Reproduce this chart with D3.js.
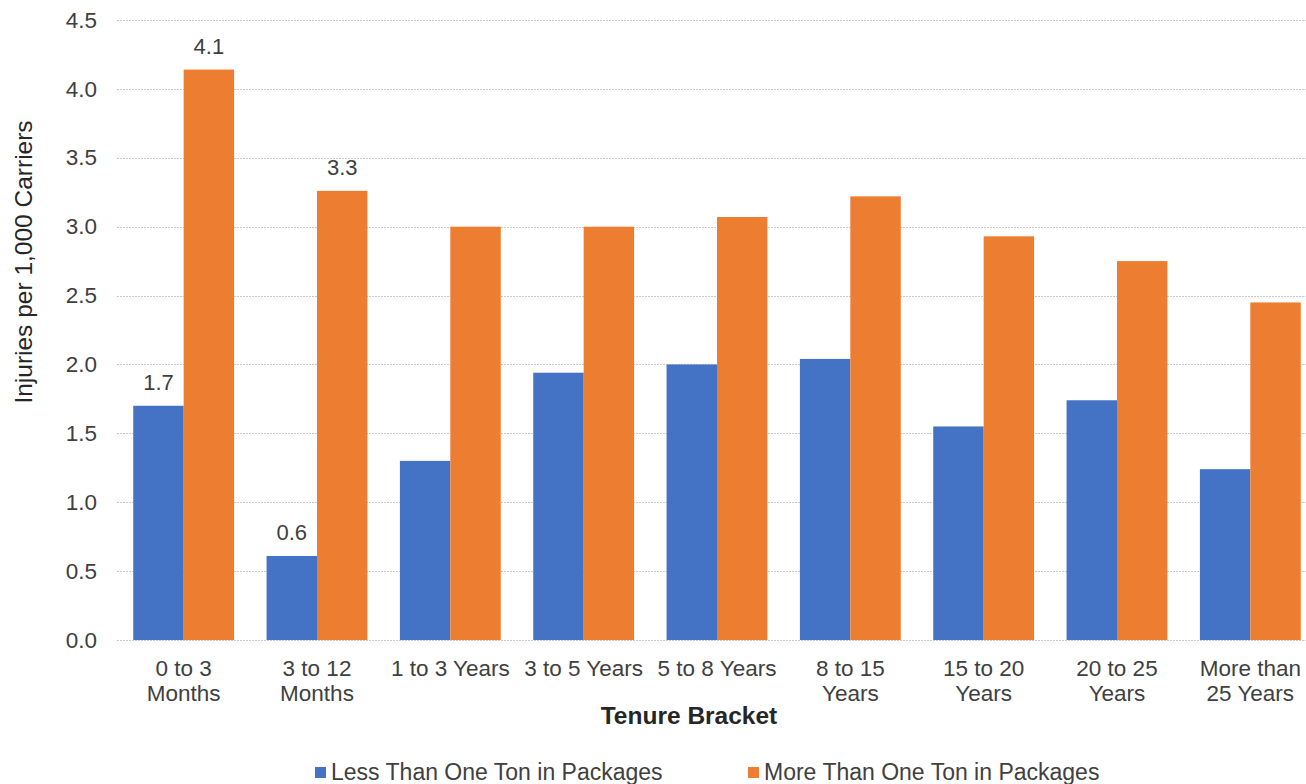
<!DOCTYPE html>
<html>
<head>
<meta charset="utf-8">
<script src="https://cdn.jsdelivr.net/npm/d3@7"></script>
<style>
  html, body { margin: 0; padding: 0; background: #fff; }
  svg { display: block; font-family: "Liberation Sans", Arial, sans-serif; }
</style>
</head>
<body>
<svg id="chart" width="1306" height="784"></svg>
<script>
// Tenure brackets (each label split into its display lines)
const categories = [
  ["0 to 3", "Months"],
  ["3 to 12", "Months"],
  ["1 to 3 Years"],
  ["3 to 5 Years"],
  ["5 to 8 Years"],
  ["8 to 15", "Years"],
  ["15 to 20", "Years"],
  ["20 to 25", "Years"],
  ["More than", "25 Years"]
];
const seriesNames = ["Less Than One Ton in Packages", "More Than One Ton in Packages"];
const lessThanOneTon = [1.70, 0.61, 1.30, 1.94, 2.00, 2.04, 1.55, 1.74, 1.24];
const moreThanOneTon = [4.14, 3.26, 3.00, 3.00, 3.07, 3.22, 2.93, 2.75, 2.45];
// Data labels shown only on selected bars: [series index, category index, text]
const dataLabels = [[0, 0, "1.7"], [1, 0, "4.1"], [0, 1, "0.6"], [1, 1, "3.3"]];
const yTicks = [0, 0.5, 1, 1.5, 2, 2.5, 3, 3.5, 4, 4.5];
const colors = ["#4472C4", "#ED7D31"];

const svg = d3.select("#chart");
const margin = { left: 117, right: 1317, top: 20, bottom: 640 };

const keys = categories.map((c, i) => i);
const x = d3.scaleBand().domain(keys).range([margin.left, margin.right]).paddingInner(0).paddingOuter(0);
const inner = d3.scaleBand().domain([0, 1]).range([0, x.bandwidth()]).paddingOuter(0.322).paddingInner(0);
const y = d3.scaleLinear().domain([0, 4.5]).range([margin.bottom, margin.top]);

// Horizontal gridlines
svg.append("g")
  .selectAll("line")
  .data(yTicks)
  .join("line")
  .attr("x1", margin.left)
  .attr("x2", 1306)
  .attr("y1", d => Math.round(y(d)) + 0.5)
  .attr("y2", d => Math.round(y(d)) + 0.5)
  .attr("stroke", "#c8c8c8")
  .attr("stroke-width", 1)
  .attr("stroke-dasharray", "2,1");

// Y axis tick labels
const yAxis = d3.axisLeft(y).tickValues(yTicks).tickFormat(d3.format(".1f")).tickSize(0).tickPadding(20);
const gy = svg.append("g").attr("transform", `translate(${margin.left},0)`).call(yAxis);
gy.select(".domain").remove();
gy.selectAll("text")
  .attr("font-size", 22.5)
  .attr("fill", "#404040")
  .attr("font-family", "Liberation Sans, Arial, sans-serif");

// Bars
const series = [lessThanOneTon, moreThanOneTon];
series.forEach((vals, s) => {
  svg.append("g")
    .selectAll("rect")
    .data(vals)
    .join("rect")
    .attr("x", (d, i) => x(i) + inner(s))
    .attr("width", inner.bandwidth())
    .attr("y", d => y(d))
    .attr("height", d => y(0) - y(d))
    .attr("fill", colors[s]);
});

// Data labels
svg.append("g")
  .selectAll("text")
  .data(dataLabels)
  .join("text")
  .attr("x", d => x(d[1]) + inner(d[0]) + inner.bandwidth() / 2)
  .attr("y", d => y(series[d[0]][d[1]]) - 16)
  .attr("text-anchor", "middle")
  .attr("font-size", 22)
  .attr("fill", "#404040")
  .text(d => d[2]);

// Category labels
const cat = svg.append("g");
categories.forEach((lines, i) => {
  const cx = x(i) + x.bandwidth() / 2;
  const t = cat.append("text")
    .attr("x", cx)
    .attr("y", 676)
    .attr("text-anchor", "middle")
    .attr("font-size", 22.5)
    .attr("fill", "#404040");
  lines.forEach((ln, j) => {
    t.append("tspan").attr("x", cx).attr("dy", j === 0 ? 0 : 25).text(ln);
  });
});

// Axis titles
svg.append("text")
  .attr("x", 689)
  .attr("y", 724)
  .attr("text-anchor", "middle")
  .attr("font-size", 24.5)
  .attr("font-weight", "bold")
  .attr("fill", "#262626")
  .text("Tenure Bracket");

svg.append("text")
  .attr("transform", "translate(32,262) rotate(-90)")
  .attr("text-anchor", "middle")
  .attr("font-size", 24.5)
  .attr("fill", "#262626")
  .text("Injuries per 1,000 Carriers");

// Legend
const legendX = [315, 748];
seriesNames.forEach((name, s) => {
  const g = svg.append("g").attr("transform", `translate(${legendX[s]},780)`);
  g.append("rect").attr("x", 0).attr("y", -13).attr("width", 11).attr("height", 11).attr("fill", colors[s]);
  g.append("text").attr("x", 16).attr("y", 0).attr("font-size", 23).attr("fill", "#404040").text(name);
});
</script>
</body>
</html>
